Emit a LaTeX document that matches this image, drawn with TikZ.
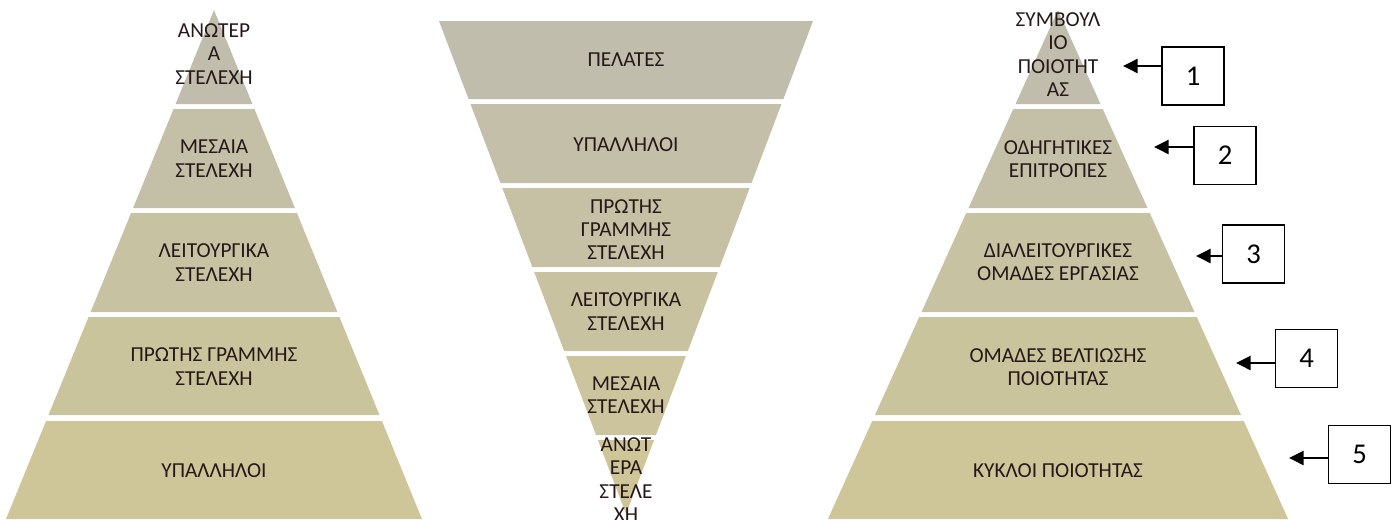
\documentclass[tikz,border=0pt]{standalone}
\usepackage{fontspec}
\setmainfont{Carlito}
\usepackage{xcolor}
\usepackage{tikz}
\usetikzlibrary{arrows.meta}

\definecolor{tantop}{RGB}{192,189,172}
\definecolor{tanbot}{RGB}{206,198,152}
\definecolor{inkbrown}{RGB}{38,24,24}

\begin{document}
\begin{tikzpicture}[x=0.75pt, y=-0.75pt,
  lbl/.style={align=center, font=\fontsize{16}{17.5}\selectfont,
    text=inkbrown, inner sep=0pt},
  numbox/.style={draw=black, line width=1.2pt, fill=white,
    minimum width=46.5pt, minimum height=43.5pt, inner sep=0pt,
    font=\fontsize{21.5}{24}\selectfont},
  arr/.style={-{Triangle[length=11pt,width=10.5pt]}, line width=1.9pt}
]
\useasboundingbox (0,0) rectangle (1395,519);

%% Left pyramid (apex at x = 214)
\foreach \yt/\yb/\p in {10/104/0, 109/208/25, 213/312/50, 317/415/75, 421/519/100}
  \fill[tanbot!\p!tantop] ({214-0.4086*(\yt-10)},\yt) -- ({214+0.4086*(\yt-10)},\yt)
    -- ({214+0.4086*(\yb-10)},\yb) -- ({214-0.4086*(\yb-10)},\yb) -- cycle;

\node[lbl] (lsenior)  at (214, 54)    {ΑΝΩΤΕΡ\\Α\\ΣΤΕΛΕΧΗ};
\node[lbl] (lmiddle)  at (214, 158.5) {ΜΕΣΑΙΑ\\ΣΤΕΛΕΧΗ};
\node[lbl] (lfunc)    at (214, 262.5) {ΛΕΙΤΟΥΡΓΙΚΑ\\ΣΤΕΛΕΧΗ};
\node[lbl] (lfront)   at (214, 366.5) {ΠΡΩΤΗΣ ΓΡΑΜΜΗΣ\\ΣΤΕΛΕΧΗ};
\node[lbl] (lstaff)   at (214, 471)   {ΥΠΑΛΛΗΛΟΙ};

%% Inverted pyramid (apex at x = 626, y = 514)
\foreach \yt/\yb/\p in {21/99/0, 104/183/20, 188/267/40, 272/351/60, 356/435/80, 440/514/100}
  \fill[tanbot!\p!tantop] ({626-0.3793*(514-\yt)},\yt) -- ({626+0.3793*(514-\yt)},\yt)
    -- ({626+0.3793*(514-\yb)},\yb) -- ({626-0.3793*(514-\yb)},\yb) -- cycle;

\node[lbl] (mclients) at (626, 60)    {ΠΕΛΑΤΕΣ};
\node[lbl] (mstaff)   at (626, 145)   {ΥΠΑΛΛΗΛΟΙ};
\node[lbl] (mfront)   at (626, 229.5) {ΠΡΩΤΗΣ\\ΓΡΑΜΜΗΣ\\ΣΤΕΛΕΧΗ};
\node[lbl] (mfunc)    at (626, 311.5) {ΛΕΙΤΟΥΡΓΙΚΑ\\ΣΤΕΛΕΧΗ};
\node[lbl] (mmiddle)  at (626, 395)   {ΜΕΣΑΙΑ\\ΣΤΕΛΕΧΗ};
\node[lbl] (msenior)  at (626, 479.5) {ΑΝΩΤ\\ΕΡΑ\\ΣΤΕΛΕ\\ΧΗ};

%% Quality pyramid (apex at x = 1058)
\foreach \yt/\yb/\p in {10/104/0, 109/208/25, 213/312/50, 317/415/75, 421/519/100}
  \fill[tanbot!\p!tantop] ({1058-0.452*(\yt-10)},\yt) -- ({1058+0.452*(\yt-10)},\yt)
    -- ({1058+0.452*(\yb-10)},\yb) -- ({1058-0.452*(\yb-10)},\yb) -- cycle;

\node[lbl] (qcouncil) at (1058, 54.5) {ΣΥΜΒΟΥΛ\\ΙΟ\\ΠΟΙΟΤΗΤ\\ΑΣ};
\node[lbl] (qsteer)   at (1058, 159)  {ΟΔΗΓΗΤΙΚΕΣ\\ΕΠΙΤΡΟΠΕΣ};
\node[lbl] (qcross)   at (1058, 262)  {ΔΙΑΛΕΙΤΟΥΡΓΙΚΕΣ\\ΟΜΑΔΕΣ ΕΡΓΑΣΙΑΣ};
\node[lbl] (qimprove) at (1058, 367)  {ΟΜΑΔΕΣ ΒΕΛΤΙΩΣΗΣ\\ΠΟΙΟΤΗΤΑΣ};
\node[lbl] (qcircles) at (1058, 471)  {ΚΥΚΛΟΙ ΠΟΙΟΤΗΤΑΣ};

%% Numbered boxes
\node[numbox] (b1) at (1193, 76)    {1};
\node[numbox] (b2) at (1225, 155.5) {2};
\node[numbox] (b3) at (1253.5, 254) {3};
\node[numbox] (b4) at (1306.5, 358.5) {4};
\node[numbox] (b5) at (1359.5, 454.5) {5};

%% Arrow tips
\coordinate (t1) at (1123, 66);
\coordinate (t2) at (1154, 147);
\coordinate (t3) at (1196, 256);
\coordinate (t4) at (1236, 363);
\coordinate (t5) at (1289, 458);

\foreach \i in {1,...,5}
  \draw[arr] (b\i.west |- t\i) -- (t\i);

\end{tikzpicture}
\end{document}
